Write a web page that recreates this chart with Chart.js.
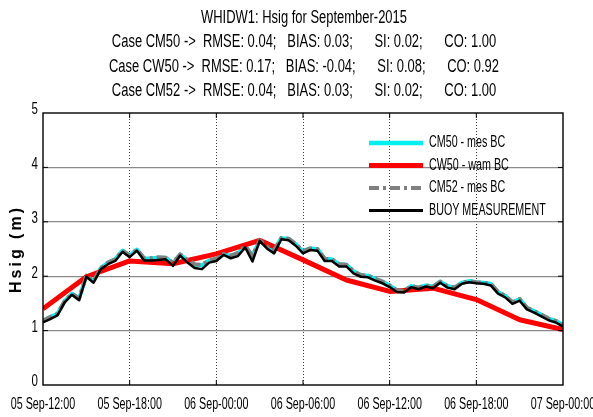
<!DOCTYPE html>
<html>
<head>
<meta charset="utf-8">
<script src="https://cdn.jsdelivr.net/npm/chart.js@4.4.0/dist/chart.umd.min.js"></script>
<style>
  html, body { margin: 0; padding: 0; background: #fff; }
  #wrap { width: 593px; height: 417px; }
</style>
</head>
<body>
<div id="wrap"><canvas id="myChart" width="593" height="417"></canvas></div>
<script>
const FONT = "'Liberation Sans', Arial, sans-serif";

const titleLines = [
    'WHIDW1: Hsig for September-2015',
    'Case CM50 ->  RMSE: 0.04;   BIAS: 0.03;      SI: 0.02;      CO: 1.00',
    'Case CW50 ->  RMSE: 0.17;   BIAS: -0.04;      SI: 0.08;      CO: 0.92',
    'Case CM52 ->  RMSE: 0.04;   BIAS: 0.03;      SI: 0.02;      CO: 1.00'
];
const tickLabels = ['05 Sep-12:00', '05 Sep-18:00', '06 Sep-00:00', '06 Sep-06:00',
                    '06 Sep-12:00', '06 Sep-18:00', '07 Sep-00:00'];
const yTicks = [0, 1, 2, 3, 4, 5];
const seriesNames = ['CM50 - mes BC', 'CW50 - wam BC', 'CM52 - mes BC', 'BUOY MEASUREMENT'];

// half-hourly values, 05 Sep 12:00 .. 07 Sep 00:00
const buoy = [1.15,1.21,1.28,1.52,1.66,1.56,1.99,1.88,2.13,2.22,
              2.28,2.45,2.35,2.47,2.29,2.29,2.30,2.31,2.19,2.38,
              2.25,2.15,2.13,2.25,2.28,2.39,2.33,2.37,2.53,2.27,
              2.65,2.51,2.42,2.68,2.66,2.56,2.42,2.48,2.47,2.28,
              2.28,2.18,2.18,2.05,1.99,1.98,1.92,1.87,1.80,1.71,
              1.70,1.80,1.76,1.81,1.78,1.88,1.79,1.76,1.86,1.89,
              1.87,1.86,1.83,1.68,1.61,1.49,1.55,1.39,1.33,1.26,
              1.19,1.15,1.07];
const cm50 = [1.18,1.25,1.31,1.54,1.68,1.59,2.01,1.91,2.15,2.25,
              2.31,2.47,2.38,2.49,2.32,2.33,2.34,2.34,2.24,2.40,
              2.29,2.21,2.20,2.29,2.31,2.41,2.37,2.42,2.55,2.37,
              2.66,2.54,2.47,2.70,2.69,2.59,2.46,2.51,2.50,2.32,
              2.31,2.22,2.21,2.09,2.02,2.01,1.95,1.90,1.83,1.74,
              1.73,1.82,1.79,1.83,1.81,1.90,1.82,1.79,1.88,1.91,
              1.89,1.88,1.86,1.71,1.64,1.52,1.58,1.42,1.36,1.29,
              1.22,1.18,1.10];
const cm52 = [1.18,1.25,1.31,1.54,1.68,1.59,2.01,1.91,2.15,2.25,
              2.31,2.47,2.38,2.49,2.33,2.33,2.35,2.34,2.25,2.40,
              2.30,2.22,2.21,2.29,2.32,2.41,2.38,2.43,2.55,2.38,
              2.66,2.55,2.48,2.70,2.69,2.59,2.46,2.51,2.50,2.32,
              2.31,2.22,2.21,2.09,2.02,2.01,1.95,1.90,1.83,1.74,
              1.73,1.82,1.79,1.83,1.81,1.90,1.82,1.79,1.88,1.91,
              1.89,1.88,1.86,1.71,1.64,1.52,1.58,1.42,1.36,1.29,
              1.22,1.18,1.10];
// 3-hourly wave model run
const cw50 = [1.40,1.99,2.28,2.23,2.41,2.66,2.30,1.93,1.72,1.78,1.57,1.20,1.02];

const toPoints = (arr, step) => arr.map((v, i) => ({x: i * step, y: v}));

// squeezed text, looks like the narrow matlab font
function narrowText(ctx, text, x, y, align, squeeze) {
    ctx.save();
    ctx.translate(x, y);
    ctx.scale(squeeze, 1);
    ctx.textAlign = align;
    ctx.fillText(text, 0, 0);
    ctx.restore();
}

const boxPlugin = {
    id: 'matlabBox',
    afterDatasetsDraw(chart) {
        const {ctx, chartArea: a, scales} = chart;
        ctx.save();
        // legend
        const leg = [
            {c: '#00f0f0', w: 4.5, d: []},
            {c: '#ff0000', w: 5, d: []},
            {c: '#808080', w: 4, d: [10, 4, 3, 4]},
            {c: '#000000', w: 3, d: []}
        ];
        ctx.font = '16px ' + FONT;
        ctx.textBaseline = 'middle';
        ctx.fillStyle = '#000';
        leg.forEach((l, i) => {
            const y = 143 + i * 22.5;
            ctx.beginPath();
            ctx.lineWidth = l.w;
            ctx.strokeStyle = l.c;
            ctx.setLineDash(l.d);
            ctx.moveTo(369, y);
            ctx.lineTo(423, y);
            ctx.stroke();
            ctx.setLineDash([]);
            narrowText(ctx, seriesNames[i], 429, y, 'left', 0.67);
        });
        // axes box + inward ticks
        ctx.strokeStyle = '#000';
        ctx.lineWidth = 1.4;
        ctx.strokeRect(a.left, a.top, a.right - a.left, a.bottom - a.top);
        ctx.lineWidth = 1;
        for (let v = 1; v < 5; v++) {
            const y = scales.y.getPixelForValue(v);
            ctx.beginPath();
            ctx.moveTo(a.right, y); ctx.lineTo(a.right - 5, y);
            ctx.moveTo(a.left, y); ctx.lineTo(a.left + 5, y);
            ctx.stroke();
        }
        for (let h = 6; h < 36; h += 6) {
            const x = scales.x.getPixelForValue(h);
            ctx.beginPath();
            ctx.moveTo(x, a.bottom); ctx.lineTo(x, a.bottom - 5);
            ctx.moveTo(x, a.top); ctx.lineTo(x, a.top + 5);
            ctx.stroke();
        }
        ctx.restore();
    },
    afterDraw(chart) {
        const {ctx, chartArea: a, scales} = chart;
        ctx.save();
        ctx.fillStyle = '#000';
        ctx.textBaseline = 'middle';
        ctx.font = '18px ' + FONT;
        titleLines.forEach((t, i) => narrowText(ctx, t, 304, 18 + i * 24.5, 'center', 0.72));
        // tick labels
        ctx.font = '16px ' + FONT;
        tickLabels.forEach((t, i) => narrowText(ctx, t, scales.x.getPixelForValue(i * 6), a.bottom + 20, 'center', 0.67));
        yTicks.forEach(v => narrowText(ctx, String(v), a.left - 5, scales.y.getPixelForValue(v) - 3, 'right', 0.72));
        // y axis title
        ctx.translate(17, (a.top + a.bottom) / 2);
        ctx.rotate(-Math.PI / 2);
        ctx.font = 'bold 16px ' + FONT;
        ctx.letterSpacing = '3px';
        ctx.textAlign = 'center';
        ctx.fillText('Hsig (m)', 0, 0);
        ctx.restore();
    }
};

const ctx = document.getElementById('myChart').getContext('2d');
const myChart = new Chart(ctx, {
    type: 'line',
    data: {
        datasets: [
            {label: seriesNames[3], data: toPoints(buoy, 0.5), borderColor: '#000000', borderWidth: 2.5, order: 0},
            {label: seriesNames[2], data: toPoints(cm52, 0.5), borderColor: '#808080', borderWidth: 4, borderDash: [10, 4, 3, 4], order: 1},
            {label: seriesNames[1], data: toPoints(cw50, 3), borderColor: '#ff0000', borderWidth: 5, order: 2},
            {label: seriesNames[0], data: toPoints(cm50, 0.5), borderColor: '#00f0f0', borderWidth: 4, order: 3}
        ]
    },
    options: {
        responsive: false,
        animation: false,
        events: [],
        elements: {
            point: {radius: 0},
            line: {tension: 0, borderJoinStyle: 'round', borderCapStyle: 'butt'}
        },
        layout: {padding: {top: 113, right: 30, left: 43, bottom: 32}},
        scales: {
            x: {
                type: 'linear',
                min: 0,
                max: 36,
                ticks: {display: false, stepSize: 6},
                grid: {
                    drawTicks: false,
                    color: ctx => (ctx.tick && ctx.tick.value > 0 && ctx.tick.value < 36) ? '#444' : 'rgba(0,0,0,0)',
                    lineWidth: 1
                },
                border: {display: false, dash: [1, 2]}
            },
            y: {
                min: 0,
                max: 5,
                ticks: {display: false, stepSize: 1},
                grid: {
                    drawTicks: false,
                    color: ctx => (ctx.tick && ctx.tick.value > 0 && ctx.tick.value < 5) ? '#8a8a8a' : 'rgba(0,0,0,0)',
                    lineWidth: 1.2
                },
                border: {display: false}
            }
        },
        plugins: {
            legend: {display: false},
            title: {display: false},
            tooltip: {enabled: false}
        }
    },
    plugins: [boxPlugin]
});
</script>
</body>
</html>
